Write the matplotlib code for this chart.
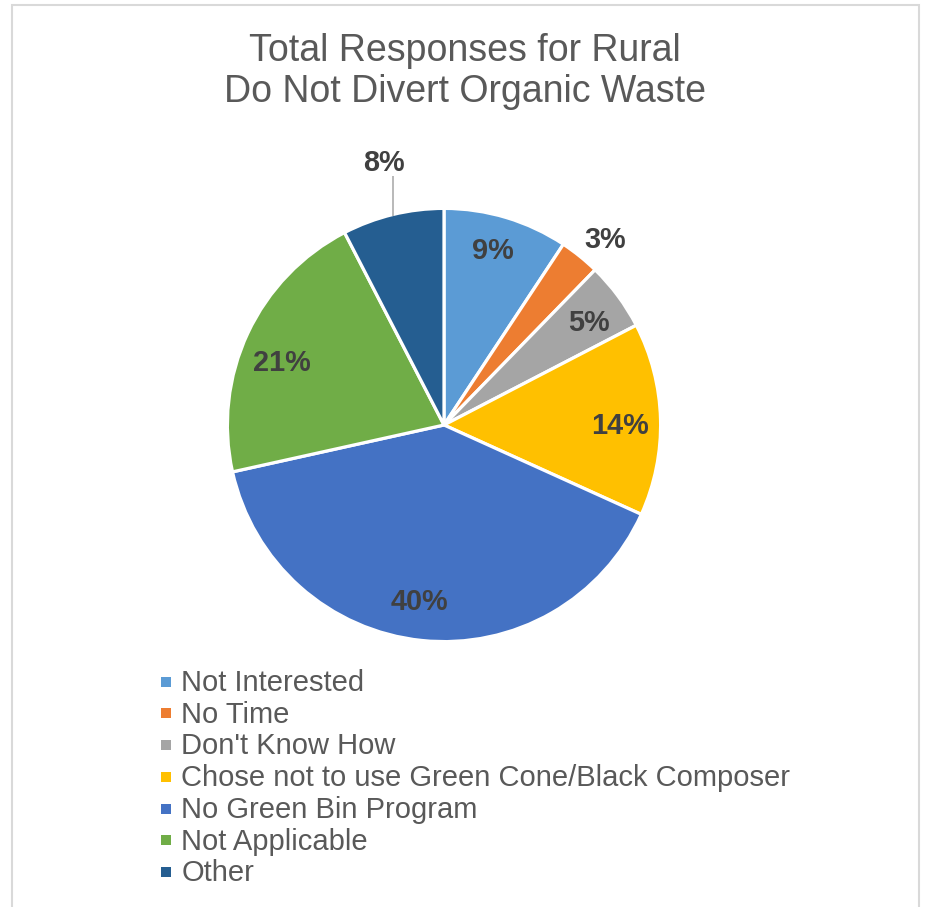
import numpy as np
import matplotlib
matplotlib.use("Agg")
import matplotlib.pyplot as plt
from matplotlib.patches import Rectangle

# ---- data ----
categories = ["Not Interested", "No Time", "Don't Know How",
              "Chose not to use Green Cone/Black Composer",
              "No Green Bin Program", "Not Applicable", "Other"]
values = [9.3, 3.0, 5.1, 14.4, 39.8, 20.9, 7.6]
title_lines = ["Total Responses for Rural", "Do Not Divert Organic Waste"]

# ---- style ----
colors = ["#5B9BD5", "#ED7D31", "#A5A5A5", "#FFC000", "#4472C4", "#70AD47", "#255E91"]
label_radius = [0.85, 1.15, 0.83, 0.82, 0.82, 0.81, 1.262]
label_angle_off = [1.1, -1.9, -0.9, -1.1, -2.1, 3.4, -0.8]
leader = [False, False, False, False, False, False, True]

W, H = 928, 907
fig = plt.figure(figsize=(W / 100, H / 100), dpi=100)
ax = fig.add_axes([0, 0, 1, 1])
FONT = "Liberation Sans"

cx, cy = 444, H - 425
R = 215
lw_px = 3.2

wedges, _ = ax.pie(values, colors=colors, startangle=90, counterclock=False,
                   center=(cx, cy), radius=R + lw_px / 2,
                   wedgeprops=dict(edgecolor="white", linewidth=lw_px * 0.72))
ax.set_xlim(0, W)
ax.set_ylim(0, H)
ax.set_aspect("equal")
ax.axis("off")

label_fs = 20.8
cap_half = label_fs / 72 * 100 * 0.716 / 2

total = sum(values)
for w, v, f, off, ld in zip(wedges, values, label_radius, label_angle_off, leader):
    mid = (w.theta1 + w.theta2) / 2
    ang = np.deg2rad(mid + off)
    x = cx + R * f * np.cos(ang)
    y = cy + R * f * np.sin(ang)
    pct = round(v / total * 100)
    ax.text(x, y - cap_half, f"{pct}%", ha="center", va="baseline", fontsize=label_fs,
            fontweight="bold", color="#404040", family=FONT)
    if ld:
        ex = cx + R * np.cos(np.deg2rad(mid))
        ey = cy + R * np.sin(np.deg2rad(mid))
        ax.plot([ex, ex], [ey, y - 15.5], color="#A6A6A6", lw=1.1,
                solid_capstyle="butt")

# title
for i, line in enumerate(title_lines):
    ax.text(W / 2 + 1, H - (60.7 + i * 41.6), line, ha="center", va="baseline",
            fontsize=27, color="#595959", family=FONT)

# legend
for i, (lab, col) in enumerate(zip(categories, colors)):
    base = 691 + i * 31.7
    ax.add_patch(Rectangle((161, H - (base - 4.3)), 10, 10, facecolor=col,
                           edgecolor="none"))
    ax.text(181.5, H - base, lab, ha="left", va="baseline", fontsize=21,
            color="#595959", family=FONT)

# chart border
ax.add_patch(Rectangle((12, -20), 907, H - 5 + 20, facecolor="none",
                       edgecolor="#D9D9D9", lw=1.5, clip_on=False))

fig.savefig("out.png", dpi=100)
